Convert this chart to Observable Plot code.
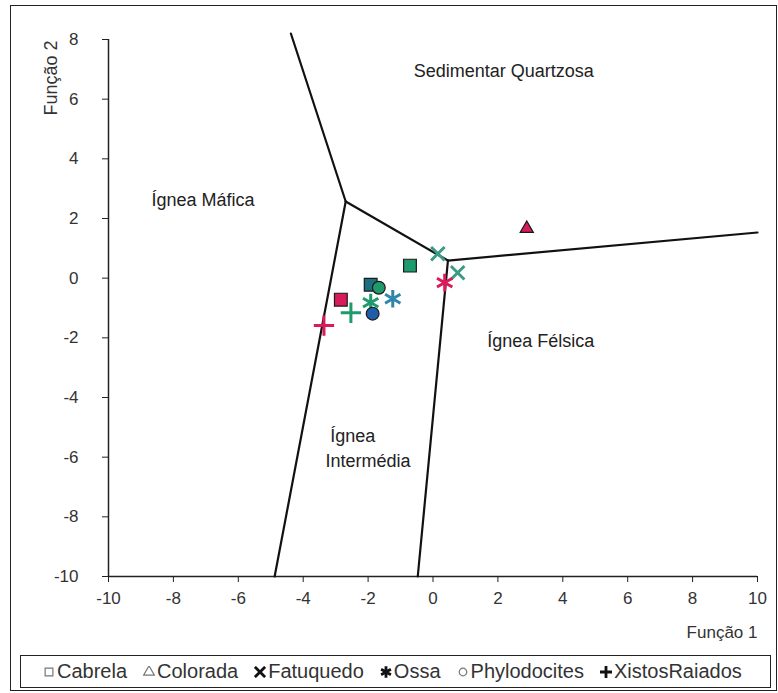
<!DOCTYPE html>
<html>
<head>
<meta charset="utf-8">
<script src="https://cdn.jsdelivr.net/npm/d3@7"></script>
<script src="https://cdn.jsdelivr.net/npm/@observablehq/plot@0.6"></script>
<style>
  html, body { margin: 0; padding: 0; background: #fff; }
  #wrap { position: relative; width: 778px; height: 693px; font-family: "Liberation Sans", Arial, sans-serif; }
  #wrap svg.plot { position: absolute; left: 0; top: 0; }
  #frame { position: absolute; left: 10px; top: 5px; width: 767px; height: 686px; border: 1.5px solid #222; box-sizing: border-box; pointer-events: none; }
  #legend { position: absolute; left: 20px; top: 655px; width: 751px; height: 33px; border: 1.5px solid #222; box-sizing: border-box; background: #fff;
            display: flex; align-items: center; gap: 16px; padding-left: 22px; font-size: 20px; color: #333; }
  #legend .item { display: flex; align-items: center; white-space: nowrap; }
  #legend svg { margin-right: 2px; }
</style>
</head>
<body>
<div id="wrap"><div id="frame"></div></div>
<script>
// ---- data ----
const seriesNames = ["Cabrela", "Colorada", "Fatuquedo", "Ossa", "Phylodocites", "XistosRaiados"];

const pointSeries = ["Cabrela", "Cabrela", "Cabrela", "Colorada", "Fatuquedo", "Fatuquedo", "Ossa", "Ossa", "Ossa", "Phylodocites", "Phylodocites", "XistosRaiados", "XistosRaiados"];
const pointX      = [-2.84, -1.92, -0.71, 2.89, 0.15, 0.76, 0.36, -1.24, -1.92, -1.67, -1.86, -2.53, -3.36];
const pointY      = [-0.72, -0.22, 0.42, 1.66, 0.82, 0.18, -0.15, -0.69, -0.82, -0.32, -1.19, -1.16, -1.59];
const pointGroup  = ["a", "b", "c", "a", "d", "d", "a", "e", "c", "c", "f", "c", "a"];

// discriminant field boundaries (vertices and edges)
const vertexName = ["top", "j1", "leftBottom", "j2", "right", "rightBottom"];
const vertexX    = [-4.38, -2.69, -4.88, 0.46, 10, -0.47];
const vertexY    = [8.2, 2.57, -10, 0.59, 1.53, -10];
const edges      = [["top", "j1"], ["j1", "leftBottom"], ["j1", "j2"], ["j2", "right"], ["j2", "rightBottom"]];

const regionNames = ["Sedimentar Quartzosa", "Ígnea Máfica", "Ígnea Félsica", "Ígnea", "Intermédia"];
const regionX     = [2.18, -7.09, 3.32, -2.47, -2.0];
const regionY     = [6.93, 2.6, -2.13, -5.29, -6.12];

const xTicks = [-10, -8, -6, -4, -2, 0, 2, 4, 6, 8, 10];
const yTicks = [-10, -8, -6, -4, -2, 0, 2, 4, 6, 8];
const xTitle = "Função 1";
const yTitle = "Função 2";

// ---- build tables ----
const points = pointX.map((x, i) => ({x, y: pointY[i], series: pointSeries[i], group: pointGroup[i]}));
const vIndex = new Map(vertexName.map((n, i) => [n, i]));
const segs = edges.flatMap(([a, b], k) => [a, b].map(n => ({x: vertexX[vIndex.get(n)], y: vertexY[vIndex.get(n)], edge: k})));
const regions = regionNames.map((t, i) => ({t, x: regionX[i], y: regionY[i]}));

const symbolRange = ["square", "triangle", "times", "asterisk", "circle", "plus"];
// per-symbol drawing style
const symStyle = {
  square:   {r: 7.2, filled: true},
  triangle: {r: 4.9, filled: true},
  times:    {r: 6.2, filled: false, sw: 3},
  asterisk: {r: 8.4, filled: false, sw: 3},
  circle:   {r: 6.4, filled: true},
  plus:     {r: 6.6, filled: false, sw: 3}
};
const fmt = d => (d < 0 ? "-" + Math.abs(d) : String(d));

const dotMarks = seriesNames.map((name, i) => {
  const st = symStyle[symbolRange[i]];
  const data = points.filter(d => d.series === name);
  return st.filled
    ? Plot.dot(data, {x: "x", y: "y", symbol: "series", fill: "group", stroke: "#1a1a1a", r: st.r, strokeWidth: 1.2})
    : Plot.dot(data, {x: "x", y: "y", symbol: "series", stroke: "group", r: st.r, strokeWidth: st.sw});
});

const chart = Plot.plot({
  width: 778,
  height: 693,
  marginLeft: 108,
  marginRight: 21,
  marginTop: 39,
  marginBottom: 117,
  style: {fontFamily: "'Liberation Sans', Arial, sans-serif", fontSize: "17px", color: "#333", background: "transparent"},
  x: {domain: [-10, 10]},
  y: {domain: [-10, 8]},
  symbol: {domain: seriesNames, range: symbolRange},
  color: {type: "ordinal", domain: ["a", "b", "c", "d", "e", "f"],
          range: ["#d81b5a", "#1f6e80", "#1e9a6c", "#3a9c86", "#2f86a8", "#1c5ea8"]},
  marks: [
    Plot.axisX({ticks: xTicks, tickSize: 6, tickPadding: 9, tickFormat: fmt, label: null, stroke: "#222", fill: "#333"}),
    Plot.axisY({ticks: yTicks, tickSize: 6, tickPadding: 24, tickFormat: fmt, label: null, stroke: "#222", fill: "#333"}),
    Plot.ruleX([-10], {stroke: "#222", strokeWidth: 1.5}),
    Plot.ruleY([-10], {stroke: "#222", strokeWidth: 1.5}),
    Plot.line(segs, {x: "x", y: "y", z: "edge", stroke: "#111", strokeWidth: 2.2}),
    Plot.text(regions, {x: "x", y: "y", text: "t", fontSize: 18, fill: "#222"}),
    ...dotMarks,
    Plot.text([xTitle], {frameAnchor: "bottom-right", textAnchor: "end", dy: 61, fontSize: 17, fill: "#333"}),
    Plot.text([yTitle], {frameAnchor: "top-left", textAnchor: "end", rotate: -90, dx: -64, dy: 1, fontSize: 18, fill: "#333"})
  ]
});
chart.classList.add("plot");
const wrap = document.getElementById("wrap");
wrap.insertBefore(chart, wrap.firstChild);

// ---- legend ----
const legend = document.createElement("div");
legend.id = "legend";
const swatchStyle = {
  square: {stroke: "#777", sw: 1.2, size: 60},
  triangle: {stroke: "#777", sw: 1.2, size: 50},
  times: {stroke: "#111", sw: 2.8, size: 70},
  asterisk: {stroke: "#111", sw: 2.8, size: 90},
  circle: {stroke: "#777", sw: 1.2, size: 45},
  plus: {stroke: "#111", sw: 2.8, size: 90}
};
const d3Sym = {square: d3.symbolSquare, triangle: d3.symbolTriangle, times: d3.symbolTimes, asterisk: d3.symbolAsterisk, circle: d3.symbolCircle, plus: d3.symbolPlus};
seriesNames.forEach((name, i) => {
  const kind = symbolRange[i];
  const s = swatchStyle[kind];
  const item = document.createElement("span");
  item.className = "item";
  const path = d3.symbol(d3Sym[kind], s.size)();
  item.innerHTML = `<svg width="12" height="12" viewBox="-6 -6 12 12"><path d="${path}" fill="none" stroke="${s.stroke}" stroke-width="${s.sw}"/></svg>`;
  item.appendChild(document.createTextNode(name));
  legend.appendChild(item);
});
wrap.appendChild(legend);
</script>
</body>
</html>
